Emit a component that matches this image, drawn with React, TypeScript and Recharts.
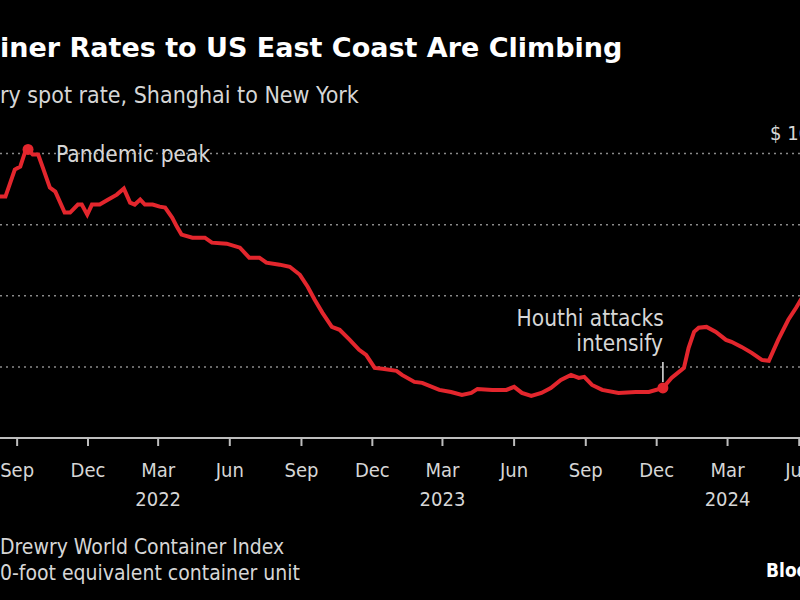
import React from 'react';
import { LineChart, Line, XAxis, YAxis, ReferenceLine, ReferenceDot } from 'recharts';

// Weekly Drewry spot rate, Shanghai -> New York (USD per 40ft box)
const weekDates = [
  '2021-08-10', '2021-08-17', '2021-08-29', '2021-09-05', '2021-09-11', '2021-09-15', '2021-09-21', '2021-09-28',
  '2021-10-04', '2021-10-13', '2021-10-20', '2021-11-01', '2021-11-08', '2021-11-18', '2021-11-23', '2021-11-30',
  '2021-12-06', '2021-12-16', '2021-12-27', '2022-01-07', '2022-01-16', '2022-01-24', '2022-01-30', '2022-02-06',
  '2022-02-12', '2022-02-22', '2022-03-03', '2022-03-10', '2022-03-19', '2022-03-25', '2022-03-31', '2022-04-14',
  '2022-04-30', '2022-05-09', '2022-05-28', '2022-06-14', '2022-06-26', '2022-07-09', '2022-07-18', '2022-08-04',
  '2022-08-17', '2022-08-30', '2022-09-09', '2022-09-18', '2022-09-28', '2022-10-10', '2022-10-20', '2022-11-02',
  '2022-11-14', '2022-11-23', '2022-12-04', '2022-12-14', '2023-01-01', '2023-01-08', '2023-01-24', '2023-02-03',
  '2023-02-25', '2023-03-12', '2023-03-26', '2023-04-07', '2023-04-15', '2023-05-04', '2023-05-22', '2023-06-01',
  '2023-06-11', '2023-06-23', '2023-07-06', '2023-07-18', '2023-07-31', '2023-08-13', '2023-08-23', '2023-08-30',
  '2023-09-09', '2023-09-22', '2023-10-13', '2023-11-04', '2023-11-21', '2023-12-09', '2023-12-20', '2024-01-05',
  '2024-01-11', '2024-01-18', '2024-01-24', '2024-02-03', '2024-02-15', '2024-02-28', '2024-03-06', '2024-03-19',
  '2024-04-01', '2024-04-14', '2024-04-23', '2024-05-05', '2024-05-18', '2024-05-28', '2024-06-06',
];

const spotRates = [
  13580, 13580, 15100, 15270, 16060, 16230, 15940, 15940,
  15210, 14085, 13860, 12680, 12680, 13130, 13130, 12565,
  13130, 13130, 13410, 13690, 14030, 13240, 13130, 13410,
  13130, 13130, 13015, 12960, 12395, 11890, 11440, 11270,
  11270, 10990, 10930, 10705, 10140, 10140, 9860, 9750,
  9630, 9180, 8510, 7775, 7040, 6250, 6085, 5520,
  4960, 4675, 3945, 3890, 3775, 3550, 3155, 3100,
  2705, 2590, 2420, 2535, 2760, 2705, 2705, 2875,
  2535, 2365, 2535, 2815, 3270, 3550, 3380, 3440,
  2985, 2705, 2535, 2590, 2590, 2815, 3380, 3945,
  5070, 5970, 6200, 6250, 5970, 5520, 5410, 5125,
  4790, 4395, 4340, 5520, 6650, 7325, 8000,
];

const monthTicks = [
  '2021-09-01', '2021-12-01', '2022-03-01', '2022-06-01', '2022-09-01', '2022-12-01',
  '2023-03-01', '2023-06-01', '2023-09-01', '2023-12-01', '2024-03-01', '2024-06-01',
];
const monthNames = ['Jan', 'Feb', 'Mar', 'Apr', 'May', 'Jun', 'Jul', 'Aug', 'Sep', 'Oct', 'Nov', 'Dec'];

const gridValues = [4000, 8000, 12000, 16000];
const topLabel = '$ 16,000';

const peakDate = '2021-09-15';
const peakRate = 16230;
const houthiDate = '2023-12-09';
const houthiRate = 2815;

const viewStart = '2021-08-10';
const viewEnd = '2024-06-02';

const toT = (d: string) => Date.parse(d + 'T00:00:00Z');

const data = weekDates.map((d, i) => ({ t: toT(d), rate: spotRates[i] }));

const FONT = '"DejaVu Sans Condensed", "DejaVu Sans", sans-serif';
const WIDE = '"DejaVu Sans", sans-serif';
const RED = '#e3262d';
const TEXT = '#d6d6d6';

const MonthTick = (props: any) => {
  const { x, y, payload } = props;
  const d = new Date(payload.value);
  const m = d.getUTCMonth();
  return (
    <g>
      <text x={x} y={y + 29} textAnchor="middle" fill={TEXT} fontSize={20} fontFamily={FONT}>
        {monthNames[m]}
      </text>
      {m === 2 && (
        <text x={x} y={y + 58} textAnchor="middle" fill={TEXT} fontSize={20} fontFamily={FONT}>
          {d.getUTCFullYear()}
        </text>
      )}
    </g>
  );
};

const TopGridLabel = (props: any) => {
  const vb = props.viewBox || {};
  return (
    <text x={vb.x + vb.width - 30} y={vb.y - 14} fill={TEXT} fontSize={20} fontFamily={FONT}>
      {topLabel}
    </text>
  );
};

const PeakLabel = (props: any) => {
  const vb = props.viewBox || {};
  const cx = vb.x + (vb.width || 0) / 2;
  const cy = vb.y + (vb.height || 0) / 2;
  return (
    <text x={cx + 28} y={cy + 13} fill={TEXT} fontSize={22.5} fontFamily={FONT}>
      Pandemic peak
    </text>
  );
};

const HouthiLabel = (props: any) => {
  const vb = props.viewBox || {};
  const cx = vb.x + (vb.width || 0) / 2;
  const cy = vb.y + (vb.height || 0) / 2;
  return (
    <g>
      <text x={cx + 1} y={cy - 62} textAnchor="end" fill={TEXT} fontSize={22.5} fontFamily={FONT}>
        Houthi attacks
      </text>
      <text x={cx} y={cy - 37} textAnchor="end" fill={TEXT} fontSize={22.5} fontFamily={FONT}>
        intensify
      </text>
      <line x1={cx} x2={cx} y1={cy - 26} y2={cy - 6} stroke="#e6e6e6" strokeWidth={1.5} />
    </g>
  );
};

export default function App() {
  return (
    <div
      style={{
        position: 'fixed',
        top: 0,
        left: 0,
        width: 800,
        height: 600,
        background: '#000',
        overflow: 'hidden',
        fontFamily: FONT,
        color: TEXT,
      }}
    >
      <div style={{ position: 'absolute', left: 0, top: 34, fontFamily: WIDE, fontSize: 27, lineHeight: '27px', fontWeight: 'bold', color: '#fff', whiteSpace: 'nowrap' }}>
        iner Rates to US East Coast Are Climbing
      </div>
      <div style={{ position: 'absolute', left: 0, top: 84, fontSize: 23, lineHeight: '23px', whiteSpace: 'nowrap' }}>
        ry spot rate, Shanghai to New York
      </div>

      <div style={{ position: 'absolute', left: 0, top: 0 }}>
        <LineChart width={800} height={520} data={data} margin={{ top: 118, right: 0, left: 0, bottom: 0 }}>
          <XAxis
            type="number"
            dataKey="t"
            domain={[toT(viewStart), toT(viewEnd)]}
            allowDataOverflow
            ticks={monthTicks.map(toT)}
            interval={0}
            tick={<MonthTick />}
            tickSize={8}
            tickLine={{ stroke: '#bdbdbd', strokeWidth: 2 }}
            axisLine={{ stroke: '#bdbdbd', strokeWidth: 2 }}
            height={82}
          />
          <YAxis type="number" domain={[0, 18000]} hide />
          {gridValues.map((v) => (
            <ReferenceLine
              key={v}
              y={v}
              stroke="#8a8a8a"
              strokeWidth={1.5}
              strokeDasharray="2 4"
              label={v === 16000 ? <TopGridLabel /> : undefined}
            />
          ))}
          <Line type="linear" dataKey="rate" stroke={RED} strokeWidth={4} dot={false} isAnimationActive={false} />
          <ReferenceDot x={toT(peakDate)} y={peakRate} r={5.5} fill={RED} stroke="none" label={<PeakLabel />} />
          <ReferenceDot x={toT(houthiDate)} y={houthiRate} r={5.5} fill={RED} stroke="none" label={<HouthiLabel />} />
        </LineChart>
      </div>

      <div style={{ position: 'absolute', left: 0, top: 534, fontSize: 21, lineHeight: '26px', whiteSpace: 'nowrap' }}>
        <div>Drewry World Container Index</div>
        <div>0-foot equivalent container unit</div>
      </div>
      <div style={{ position: 'absolute', left: 766, top: 561, fontSize: 19, lineHeight: '19px', fontWeight: 'bold', color: '#fff', whiteSpace: 'nowrap' }}>
        Bloomberg
      </div>
    </div>
  );
}
